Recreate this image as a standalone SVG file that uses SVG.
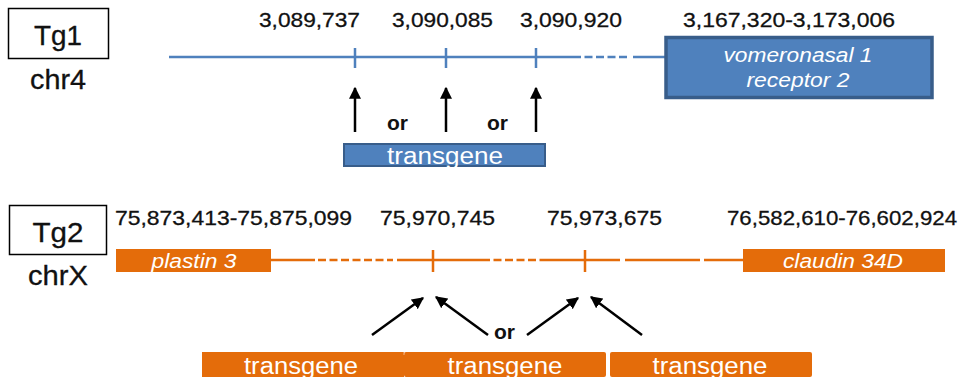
<svg xmlns="http://www.w3.org/2000/svg" width="962" height="381" viewBox="0 0 962 381">
<style>
text{font-family:"Liberation Sans",Arial,sans-serif}
.lbl{font-size:21px;fill:#111;stroke:#111;stroke-width:0.3}
.tg{font-size:28px;fill:#111;stroke:#111;stroke-width:0.3;text-anchor:middle}
.wt{fill:#fff;font-size:20px;font-style:italic;text-anchor:middle}
.tr{fill:#fff;font-size:23px;text-anchor:middle}
.or{font-size:21px;font-weight:bold;fill:#111}
.bl{stroke:#4f81bd;stroke-width:2.5;fill:none}
.og{stroke:#e46c0a;stroke-width:2.5;fill:none}
.dash{stroke-dasharray:8 3.5}
.arr{stroke:#000;stroke-width:2.5;fill:none;marker-end:url(#ah)}
.tbox{fill:#fff;stroke:#000;stroke-width:1.5}
</style>
<defs>
<marker id="ah" viewBox="0 0 10 10" refX="9" refY="5" markerWidth="4.8" markerHeight="4.8" markerUnits="strokeWidth" orient="auto">
<path d="M0,0 L10,5 L0,10 Z" fill="#000"/>
</marker>
<clipPath id="c1"><rect x="343" y="143" width="203" height="24"/></clipPath>
<clipPath id="c2"><rect x="202" y="352" width="610" height="25"/></clipPath>
</defs>

<g id="tg1-label">
<rect class="tbox" x="8.5" y="8.5" width="100" height="50"/>
<text class="tg" x="58" y="45" textLength="48" lengthAdjust="spacingAndGlyphs">Tg1</text>
<text class="tg" x="58" y="89" textLength="56" lengthAdjust="spacingAndGlyphs">chr4</text>
</g>

<g id="tg1-positions">
<text class="lbl" x="259" y="27" textLength="101" lengthAdjust="spacingAndGlyphs">3,089,737</text>
<text class="lbl" x="392" y="27" textLength="101" lengthAdjust="spacingAndGlyphs">3,090,085</text>
<text class="lbl" x="520" y="27" textLength="102" lengthAdjust="spacingAndGlyphs">3,090,920</text>
<text class="lbl" x="683" y="27" textLength="212" lengthAdjust="spacingAndGlyphs">3,167,320-3,173,006</text>
</g>

<g id="connectors">
<path class="bl" d="M169,57 H573"/>
<path class="bl dash" d="M573,57 H629"/>
<path class="bl" d="M633,57 H666"/>
<path class="bl" d="M355,48 V68 M446,48 V68 M536,48 V68"/>
<path class="arr" d="M355,132 V88"/>
<path class="arr" d="M446,132 V88"/>
<path class="arr" d="M536,132 V88"/>

<path class="og" d="M271,260 H315"/>
<path class="og dash" d="M318,260 H393"/>
<path class="og" d="M397,260 H482"/>
<path class="og dash" d="M482,260 H540"/>
<path class="og" d="M540,260 H620 M625,260 H700 M704,260 H743"/>
<path class="og" d="M433,250 V272 M585,250 V272"/>
<path class="arr" d="M372,335 L423,298"/>
<path class="arr" d="M488,335 L436,297"/>
<path class="arr" d="M527,335 L578,298"/>
<path class="arr" d="M642,335 L591,297"/>
</g>

<g id="vomeronasal">
<rect x="666" y="37.5" width="266" height="60" fill="#4f81bd" stroke="#385d8a" stroke-width="3.5"/>
<text class="wt" x="798" y="62" textLength="149" lengthAdjust="spacingAndGlyphs">vomeronasal 1</text>
<text class="wt" x="798" y="87" textLength="103" lengthAdjust="spacingAndGlyphs">receptor 2</text>
</g>

<g id="or-top">
<text class="or" x="387" y="130" textLength="21" lengthAdjust="spacingAndGlyphs">or</text>
<text class="or" x="487" y="130" textLength="21" lengthAdjust="spacingAndGlyphs">or</text>
</g>

<g id="transgene-tg1">
<rect x="344" y="144" width="201" height="22" fill="#4f81bd" stroke="#385d8a" stroke-width="2"/>
<text class="tr" x="445" y="164" clip-path="url(#c1)" textLength="116" lengthAdjust="spacingAndGlyphs">transgene</text>
</g>

<g id="tg2-label">
<rect class="tbox" x="9.5" y="205.5" width="97" height="49"/>
<text class="tg" x="58" y="242" textLength="51" lengthAdjust="spacingAndGlyphs">Tg2</text>
<text class="tg" x="58" y="285" textLength="60" lengthAdjust="spacingAndGlyphs">chrX</text>
</g>

<g id="tg2-positions">
<text class="lbl" x="115" y="225" textLength="237" lengthAdjust="spacingAndGlyphs">75,873,413-75,875,099</text>
<text class="lbl" x="380" y="225" textLength="115" lengthAdjust="spacingAndGlyphs">75,970,745</text>
<text class="lbl" x="547" y="225" textLength="115" lengthAdjust="spacingAndGlyphs">75,973,675</text>
<text class="lbl" x="727" y="225" textLength="230" lengthAdjust="spacingAndGlyphs">76,582,610-76,602,924</text>
</g>

<g id="plastin3">
<rect x="116" y="249" width="155" height="23" fill="#e46c0a"/>
<text class="wt" x="194" y="268" textLength="85" lengthAdjust="spacingAndGlyphs">plastin 3</text>
</g>

<g id="claudin34D">
<rect x="743" y="249" width="202" height="23" fill="#e46c0a"/>
<text class="wt" x="843" y="268" textLength="120" lengthAdjust="spacingAndGlyphs">claudin 34D</text>
</g>

<g id="or-bottom">
<text class="or" x="494" y="339" textLength="21" lengthAdjust="spacingAndGlyphs">or</text>
</g>

<g id="transgene-tg2-1">
<rect x="202" y="352" width="202" height="25" fill="#e46c0a"/>
<text class="tr" x="301" y="374" clip-path="url(#c2)" textLength="114" lengthAdjust="spacingAndGlyphs">transgene</text>
</g>
<g id="transgene-tg2-2">
<rect x="404" y="352" width="202" height="25" rx="2" fill="#e46c0a"/>
<line x1="404" y1="352" x2="404" y2="355" stroke="#f3b487" stroke-width="1"/>
<text class="tr" x="505" y="374" clip-path="url(#c2)" textLength="115" lengthAdjust="spacingAndGlyphs">transgene</text>
</g>
<g id="transgene-tg2-3">
<rect x="610" y="352" width="202" height="25" rx="2" fill="#e46c0a"/>
<text class="tr" x="710" y="374" clip-path="url(#c2)" textLength="115" lengthAdjust="spacingAndGlyphs">transgene</text>
</g>
</svg>
